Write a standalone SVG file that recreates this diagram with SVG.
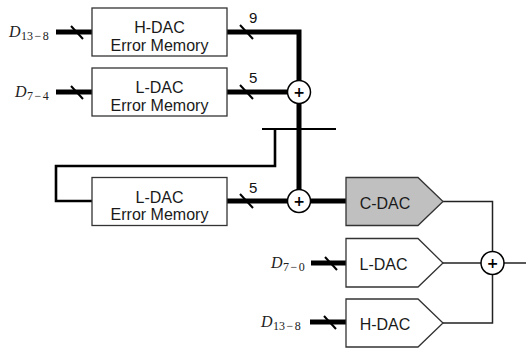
<svg xmlns="http://www.w3.org/2000/svg" width="526" height="349" viewBox="0 0 526 349">
  <style>
    .box { fill: #fff; stroke: #333; stroke-width: 1.3; }
    .dac { fill: #fff; stroke: #333; stroke-width: 1.3; stroke-linejoin: miter; }
    .dac.c { fill: #c0c0c0; }
    .lbl { font-family: "Liberation Sans", Arial, sans-serif; font-size: 16px; fill: #1a1a1a; text-anchor: middle; }
    .num { font-family: "Liberation Sans", Arial, sans-serif; font-size: 15px; fill: #111; }
    .math { font-family: "Liberation Serif", "Times New Roman", serif; fill: #222; }
    .math .v { font-style: italic; font-size: 16px; }
    .math .s { font-size: 12px; }
    .bus { fill: none; stroke: #000; stroke-width: 5; stroke-linejoin: miter; stroke-linecap: butt; }
    .wire { fill: none; stroke: #222; stroke-width: 1.5; }
    .fb { fill: none; stroke: #000; stroke-width: 2.6; stroke-linejoin: miter; }
    .slash { stroke: #000; stroke-width: 2; }
    .sum circle { fill: #fff; stroke: #000; stroke-width: 1.5; }
    .sum text { font-family: "DejaVu Sans", sans-serif; font-size: 14px; font-weight: bold; text-anchor: middle; fill: #000; }
  </style>

  <!-- connectors -->
  <g id="connectors">
    <!-- digital input buses -->
    <line class="bus" x1="56" y1="32" x2="92" y2="32"/>
    <line class="bus" x1="56" y1="92" x2="92" y2="92"/>
    <line class="bus" x1="311" y1="263" x2="346" y2="263"/>
    <line class="bus" x1="310" y1="322" x2="346" y2="322"/>
    <!-- error memory outputs into the adder chain -->
    <polyline class="bus" points="227,32 299,32 299,201"/>
    <line class="bus" x1="227" y1="92" x2="299" y2="92"/>
    <line class="bus" x1="227" y1="201" x2="346" y2="201"/>
    <!-- feedback tap -->
    <line x1="262" y1="129" x2="336" y2="129" stroke="#000" stroke-width="2"/>
    <polyline class="fb" points="275,129 275,166 56,166 56,201 92,201"/>
    <!-- analog outputs to final adder -->
    <polyline class="wire" points="443,201.5 492.5,201.5 492.5,263"/>
    <line class="wire" x1="443" y1="263" x2="526" y2="263"/>
    <polyline class="wire" points="443,323 492.5,323 492.5,263"/>
    <!-- bus width slashes -->
    <line class="slash" x1="71" y1="26" x2="83" y2="39"/>
    <line class="slash" x1="71" y1="86" x2="83" y2="99"/>
    <line class="slash" x1="240" y1="25" x2="253" y2="39"/>
    <line class="slash" x1="240" y1="85" x2="253" y2="99"/>
    <line class="slash" x1="240" y1="194" x2="253" y2="208"/>
    <line class="slash" x1="325" y1="257" x2="337" y2="270"/>
    <line class="slash" x1="324" y1="316" x2="336" y2="329"/>
    <text class="num" x="249" y="23">9</text>
    <text class="num" x="249" y="83">5</text>
    <text class="num" x="249" y="193">5</text>
  </g>

  <!-- input labels -->
  <g id="in-d13-8a">
    <text class="math" x="9" y="37"><tspan class="v">D</tspan><tspan class="s" dx="0.5" dy="3">13</tspan><tspan class="s" dx="1.5">−</tspan><tspan class="s" dx="1.5">8</tspan></text>
  </g>
  <g id="in-d7-4">
    <text class="math" x="15" y="97"><tspan class="v">D</tspan><tspan class="s" dx="0.5" dy="3">7</tspan><tspan class="s" dx="1.5">−</tspan><tspan class="s" dx="1.5">4</tspan></text>
  </g>
  <g id="in-d7-0">
    <text class="math" x="271" y="268"><tspan class="v">D</tspan><tspan class="s" dx="0.5" dy="3">7</tspan><tspan class="s" dx="1.5">−</tspan><tspan class="s" dx="1.5">0</tspan></text>
  </g>
  <g id="in-d13-8b">
    <text class="math" x="261" y="327"><tspan class="v">D</tspan><tspan class="s" dx="0.5" dy="3">13</tspan><tspan class="s" dx="1.5">−</tspan><tspan class="s" dx="1.5">8</tspan></text>
  </g>

  <!-- error memories -->
  <g id="hdac-mem">
    <rect class="box" x="92" y="8" width="135" height="48"/>
    <text class="lbl" x="159.5" y="33">H-DAC</text>
    <text class="lbl" x="159.5" y="50.5">Error Memory</text>
  </g>
  <g id="ldac-mem">
    <rect class="box" x="92" y="68" width="135" height="48"/>
    <text class="lbl" x="159.5" y="93">L-DAC</text>
    <text class="lbl" x="159.5" y="110.5">Error Memory</text>
  </g>
  <g id="ldac-mem-2">
    <rect class="box" x="92" y="177.5" width="135" height="48"/>
    <text class="lbl" x="159.5" y="202.5">L-DAC</text>
    <text class="lbl" x="159.5" y="220">Error Memory</text>
  </g>

  <!-- adders -->
  <g id="sum1" class="sum">
    <circle cx="299" cy="92" r="11.5"/>
    <text x="299" y="97">+</text>
  </g>
  <g id="sum2" class="sum">
    <circle cx="299" cy="201" r="11.5"/>
    <text x="299" y="206">+</text>
  </g>
  <g id="sum3" class="sum">
    <circle cx="492.5" cy="263" r="11.5"/>
    <text x="492.5" y="268">+</text>
  </g>

  <!-- DACs -->
  <g id="cdac">
    <polygon class="dac c" points="346,177.5 418,177.5 443,201.5 418,225.5 346,225.5"/>
    <text class="lbl" x="385" y="209">C-DAC</text>
  </g>
  <g id="ldac">
    <polygon class="dac" points="346,238.5 418,238.5 443,263 418,287 346,287"/>
    <text class="lbl" x="383.5" y="270">L-DAC</text>
  </g>
  <g id="hdac">
    <polygon class="dac" points="346,299 418,299 443,323 418,347 346,347"/>
    <text class="lbl" x="385" y="330">H-DAC</text>
  </g>
</svg>
